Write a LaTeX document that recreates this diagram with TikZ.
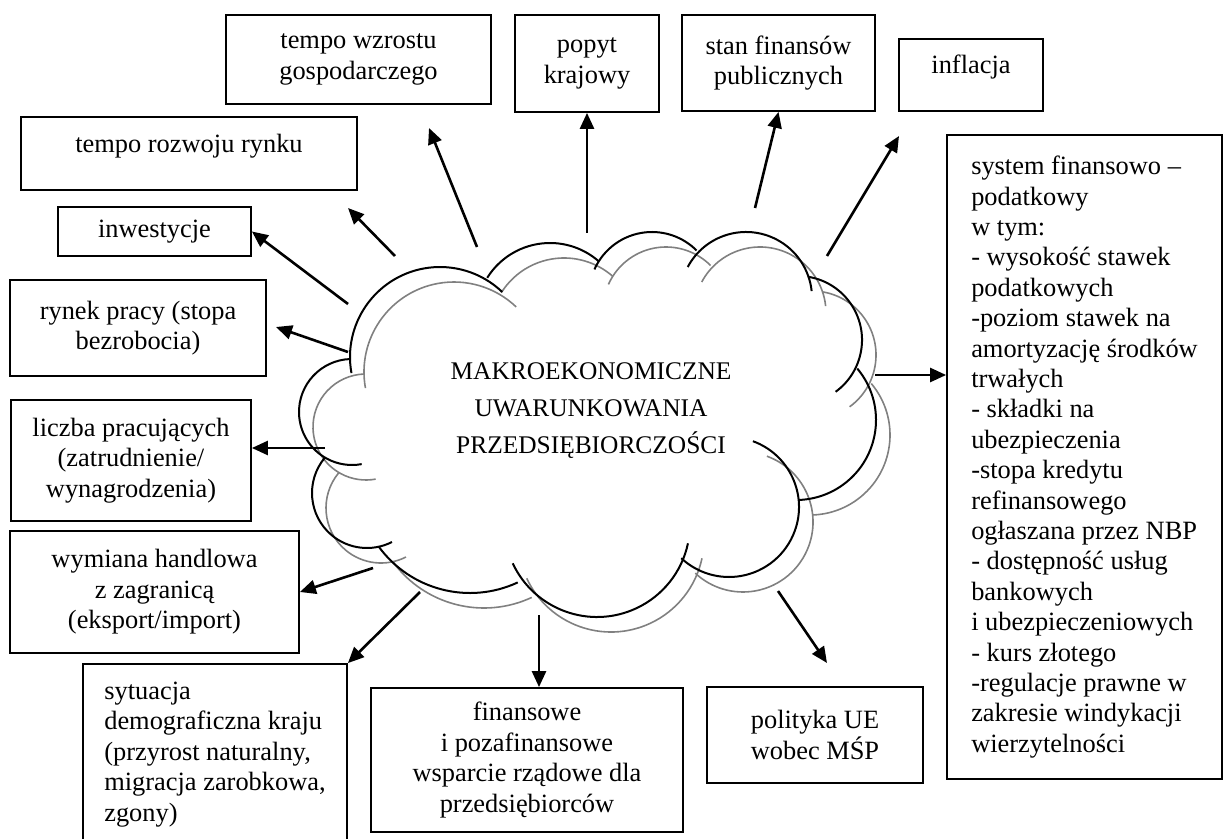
\documentclass[tikz,border=0pt]{standalone}
\usepackage{fontspec}
\setmainfont{Liberation Serif}
\usetikzlibrary{arrows.meta}
\tikzset{
  box/.style     ={draw, rectangle, line width=0.9pt, align=center, inner sep=0pt, font=\fontsize{13.2}{15.2}\selectfont},
  lbox/.style    ={box, align=left},
  cloudtxt/.style={align=center, inner sep=0pt, font=\fontsize{12.7}{18.5}\selectfont},
  arr/.style     ={-{Triangle[length=8pt,width=7pt]}, line width=1.3pt},
}
\begin{document}
\begin{tikzpicture}[x=0.5pt,y=-0.5pt]
    \useasboundingbox (0,0) rectangle (1225,839);
    \clip (0,0) rectangle (1225,839);

    \node[box, minimum width=132.5pt, minimum height=44.5pt] (wzrost) at (358.5,59.5) {tempo wzrostu\\gospodarczego};
    \node[box, minimum width=72pt, minimum height=48.5pt] (popyt) at (587,63.5) {popyt\\krajowy};
    \node[box, minimum width=96.5pt, minimum height=48pt] (stan) at (778.5,63) {stan finansów\\publicznych};
    \node[box, minimum width=72pt, minimum height=36pt, text depth=11pt] (inflacja) at (971,75) {inflacja};
    \node[box, minimum width=168pt, minimum height=36.5pt, text depth=10.4pt] (rozwoj) at (189,153.5) {tempo rozwoju rynku};
    \node[box, minimum width=96.5pt, minimum height=24.5pt] (inwest) at (154.5,231.5) {inwestycje};
    \node[box, minimum width=128pt, minimum height=48pt] (rynek) at (138,328) {rynek pracy (stopa\\bezrobocia)};
    \node[box, minimum width=120pt, minimum height=60.5pt] (liczba) at (131,460.5) {liczba pracujących\\(zatrudnienie/\\wynagrodzenia)};
    \node[box, minimum width=144.5pt, minimum height=61pt] (wymiana) at (154.5,592) {wymiana handlowa\\z zagranicą\\(eksport/import)};
    \node[lbox, minimum width=132pt, minimum height=90.5pt] (syt) at (215,754.5) {sytuacja\\demograficzna kraju\\(przyrost naturalny,\\migracja zarobkowa,\\zgony)};
    \node[box, minimum width=156pt, minimum height=72pt] (finansowe) at (527,760) {finansowe\\i pozafinansowe\\wsparcie rządowe dla\\przedsiębiorców};
    \node[box, minimum width=108pt, minimum height=48pt] (polityka) at (815,735) {polityka UE\\wobec MŚP};
    \node[lbox, minimum width=137.5pt, minimum height=322pt] (system) at (1084.5,457) {system finansowo –\\podatkowy\\w tym:\\- wysokość stawek\\podatkowych\\-poziom stawek na\\amortyzację środków\\trwałych\\- składki na\\ubezpieczenia\\-stopa kredytu\\refinansowego\\ogłaszana przez NBP\\- dostępność usług\\bankowych\\i ubezpieczeniowych\\- kurs złotego\\-regulacje prawne w\\zakresie windykacji\\wierzytelności};

    \foreach \dx/\dy/\col/\lw in {14/15/black!50/0.8pt, 0/0/black/1pt}
      \foreach \cx/\cy/\r/\a/\b in {440/357/90/169.7/313.7, 550/317/74/212/311, 652/295/63/204/315,
                                    746/298/66/208/354, 798/340/64/-80/54, 796/420/80/-40/88,
                                    729/507/70/-70/133, 597/524/93/155/12, 470/480/113/144/65,
                                    367/493/55/220/63, 352/412/53/268/79.5}
        \draw[\col, line width=\lw] (\cx+\dx,\cy+\dy) ++(\a:\r) arc[start angle=\a, end angle=\b, radius=\r];
    \node[cloudtxt] (makro) at (591,411) {MAKROEKONOMICZNE\\UWARUNKOWANIA\\PRZEDSIĘBIORCZOŚCI};

    \coordinate (tWzrost) at (477,247);  \coordinate (hWzrost) at (429,128);
    \coordinate (tRozwoj) at (395,256);  \coordinate (hRozwoj) at (348,208);
    \coordinate (tInw) at (348,304);
    \coordinate (tRynek) at (348,352);   \coordinate (hRynek) at (276,327);
    \coordinate (tLiczba) at (325,448);
    \coordinate (tWym) at (373,568);
    \coordinate (tSyt) at (420,592);
    \coordinate (tFin) at (539,615);
    \coordinate (tPol) at (778,591);     \coordinate (hPol) at (827,663);
    \coordinate (tSys) at (875,375);
    \coordinate (tInfl) at (827,256);    \coordinate (hInfl) at (899,136);
    \coordinate (tStan) at (755,208);
    \coordinate (tPopyt) at (587,233);

    \draw[arr] (tWzrost) -- (hWzrost);
    \draw[arr] (tPopyt) -- (popyt.south);
    \draw[arr] (tStan) -- (stan.south);
    \draw[arr] (tInfl) -- (hInfl);
    \draw[arr] (tRozwoj) -- (hRozwoj);
    \draw[arr] (tInw) -- (inwest.east);
    \draw[arr] (tRynek) -- (hRynek);
    \draw[arr] (tLiczba) -- (tLiczba -| liczba.east);
    \draw[arr] (tWym) -- (wymiana.east);
    \draw[arr] (tSyt) -- (syt.north east);
    \draw[arr] (tFin) -- (tFin |- finansowe.north);
    \draw[arr] (tPol) -- (hPol);
    \draw[arr] (tSys) -- (tSys -| system.west);
\end{tikzpicture}
\end{document}
